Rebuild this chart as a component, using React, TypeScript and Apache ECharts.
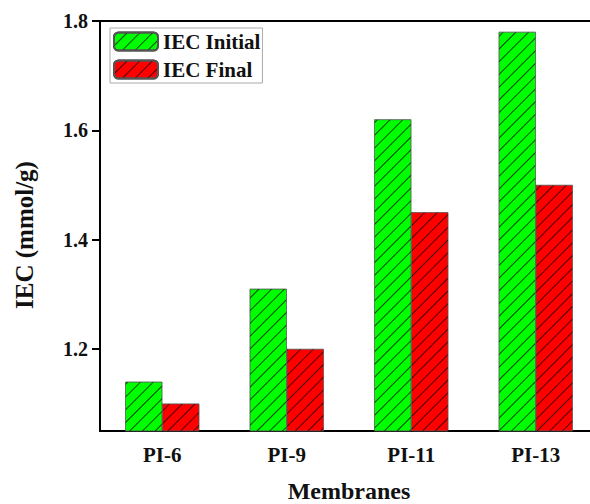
import React, { useEffect, useRef } from "react";
import * as echarts from "echarts";

const categories = ["PI-6", "PI-9", "PI-11", "PI-13"];
const iecInitial = [1.14, 1.31, 1.62, 1.78];
const iecFinal = [1.10, 1.20, 1.45, 1.50];
const yTicks = [1.2, 1.4, 1.6, 1.8];

const FONT = "'Liberation Serif', 'Times New Roman', serif";

export default function App() {
  const ref = useRef<HTMLDivElement>(null);
  useEffect(() => {
    if (!ref.current) return;
    const chart = echarts.init(ref.current, undefined, { renderer: "svg" });
    const decal = {
      symbol: "rect",
      symbolSize: 1,
      color: "rgba(0,0,0,0.7)",
      dashArrayX: [10, 0],
      dashArrayY: [1, 8],
      rotation: -Math.PI / 4,
    };
    chart.setOption({
      animation: false,
      backgroundColor: "#fff",
      grid: {
        left: 100,
        top: 21,
        width: 498,
        height: 410,
        show: true,
        borderColor: "#000",
        borderWidth: 2,
        containLabel: false,
        outerBoundsMode: "none",
      },
      legend: {
        left: 110,
        top: 28,
        orient: "vertical",
        itemWidth: 44,
        itemHeight: 18,
        itemGap: 7,
        padding: [3, 2, 3, 3],
        borderColor: "#aaa",
        borderWidth: 1,
        textStyle: { fontFamily: FONT, fontWeight: "bold", fontSize: 21, color: "#111" },
        data: ["IEC Initial", "IEC Final"],
      },
      xAxis: {
        type: "category",
        data: categories,
        name: "Membranes",
        nameLocation: "middle",
        nameGap: 48,
        nameTextStyle: { fontFamily: FONT, fontWeight: "bold", fontSize: 24, color: "#111" },
        axisLine: { lineStyle: { color: "#000", width: 2 } },
        axisTick: { alignWithLabel: true, length: 6, lineStyle: { color: "#000", width: 2 } },
        axisLabel: { fontFamily: FONT, fontWeight: "bold", fontSize: 21, color: "#111", margin: 13 },
      },
      yAxis: {
        type: "value",
        min: 1.05,
        max: 1.8,
        name: "IEC (mmol/g)",
        nameLocation: "middle",
        nameGap: 63,
        nameRotate: 90,
        nameTextStyle: {
          fontFamily: FONT,
          fontWeight: "bold",
          fontSize: 25,
          color: "#111",
          padding: [0, 18, 0, 0],
        },
        axisLine: { show: true, lineStyle: { color: "#000", width: 2 } },
        axisTick: { show: true, length: 8, customValues: yTicks, lineStyle: { color: "#000", width: 2 } },
        axisLabel: {
          fontFamily: FONT,
          fontWeight: "bold",
          fontSize: 20,
          color: "#111",
          margin: 12,
          customValues: yTicks,
          formatter: (v: number) => v.toFixed(1),
        },
        splitLine: { show: false },
      },
      series: [
        {
          name: "IEC Initial",
          type: "bar",
          data: iecInitial,
          barWidth: 37,
          barGap: "0%",
          itemStyle: { color: "#00ff00", borderColor: "#555", borderWidth: 0.5, decal },
        },
        {
          name: "IEC Final",
          type: "bar",
          data: iecFinal,
          barWidth: 37,
          barGap: "0%",
          itemStyle: { color: "#ff0000", borderColor: "#555", borderWidth: 0.5, decal },
        },
      ],
    });
    return () => chart.dispose();
  }, []);
  return (
    <div
      ref={ref}
      style={{ position: "fixed", left: 0, top: 0, width: 590, height: 504, background: "#fff" }}
    />
  );
}
